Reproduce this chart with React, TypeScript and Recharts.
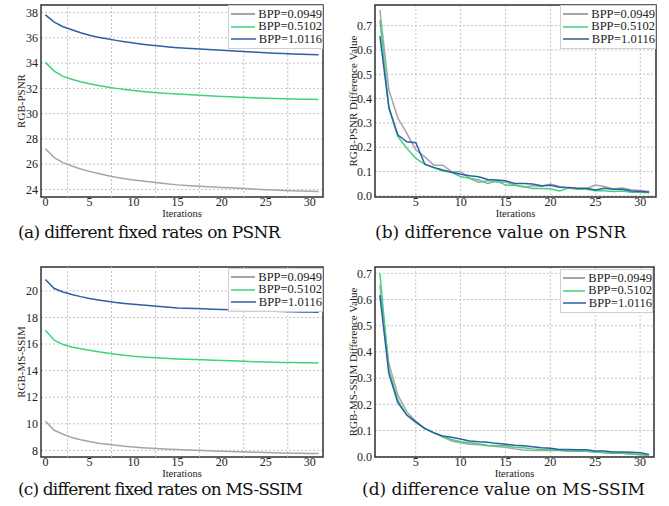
import { LineChart, Line, XAxis, YAxis, CartesianGrid, ReferenceLine, ReferenceArea } from "recharts";

const GRAY = "#a5a5a5";
const GREEN = "#40d27c";
const BLUE = "#2d5ea6";
const colors = [GRAY, GREEN, BLUE];
const seriesNames = ["BPP=0.0949", "BPP=0.5102", "BPP=1.0116"];

// x values
const itersFull = [0, 1, 2, 3, 4, 5, 6, 7, 8, 9, 10, 11, 12, 13, 14, 15, 16, 17, 18, 19, 20, 21, 22, 23, 24, 25, 26, 27, 28, 29, 30, 31];
const itersDiff = [1, 2, 3, 4, 5, 6, 7, 8, 9, 10, 11, 12, 13, 14, 15, 16, 17, 18, 19, 20, 21, 22, 23, 24, 25, 26, 27, 28, 29, 30, 31];

// (a) RGB-PSNR
const psnrLow = [27.22, 26.52, 26.12, 25.86, 25.62, 25.43, 25.26, 25.1, 24.96, 24.85, 24.75, 24.66, 24.58, 24.5, 24.42, 24.36, 24.32, 24.28, 24.24, 24.2, 24.16, 24.13, 24.09, 24.05, 24.01, 23.98, 23.95, 23.92, 23.89, 23.87, 23.85, 23.83];
const psnrMid = [34.06, 33.37, 32.95, 32.72, 32.53, 32.36, 32.22, 32.1, 32.0, 31.91, 31.83, 31.76, 31.7, 31.64, 31.59, 31.55, 31.51, 31.47, 31.43, 31.4, 31.36, 31.33, 31.3, 31.27, 31.24, 31.22, 31.2, 31.18, 31.16, 31.14, 31.13, 31.12];
const psnrHigh = [37.82, 37.25, 36.88, 36.64, 36.4, 36.2, 36.05, 35.92, 35.8, 35.69, 35.59, 35.5, 35.42, 35.35, 35.28, 35.22, 35.17, 35.13, 35.09, 35.05, 35.02, 34.98, 34.94, 34.9, 34.86, 34.82, 34.79, 34.76, 34.73, 34.71, 34.69, 34.67];

// (b) RGB-PSNR difference
const psnrDiffLow = [0.764, 0.435, 0.319, 0.257, 0.188, 0.16, 0.126, 0.126, 0.099, 0.099, 0.072, 0.055, 0.063, 0.057, 0.057, 0.044, 0.035, 0.041, 0.038, 0.048, 0.038, 0.032, 0.03, 0.029, 0.044, 0.038, 0.028, 0.032, 0.025, 0.022, 0.018];
const psnrDiffMid = [0.723, 0.366, 0.243, 0.195, 0.154, 0.129, 0.115, 0.102, 0.097, 0.078, 0.072, 0.065, 0.051, 0.062, 0.044, 0.043, 0.038, 0.03, 0.03, 0.029, 0.02, 0.032, 0.027, 0.027, 0.021, 0.021, 0.018, 0.02, 0.015, 0.015, 0.012];
const psnrDiffHigh = [0.657, 0.36, 0.25, 0.222, 0.218, 0.13, 0.117, 0.106, 0.097, 0.089, 0.082, 0.078, 0.067, 0.065, 0.062, 0.051, 0.051, 0.048, 0.041, 0.043, 0.035, 0.034, 0.031, 0.031, 0.024, 0.031, 0.027, 0.027, 0.02, 0.018, 0.016];

// (c) RGB-MS-SSIM
const ssimLow = [10.19, 9.51, 9.21, 8.96, 8.8, 8.66, 8.54, 8.46, 8.39, 8.31, 8.25, 8.2, 8.16, 8.12, 8.09, 8.06, 8.03, 8.01, 7.98, 7.95, 7.93, 7.91, 7.89, 7.87, 7.85, 7.83, 7.82, 7.8, 7.79, 7.78, 7.77, 7.76];
const ssimMid = [17.04, 16.29, 15.96, 15.78, 15.64, 15.53, 15.42, 15.32, 15.24, 15.15, 15.08, 15.03, 14.99, 14.95, 14.91, 14.88, 14.86, 14.83, 14.81, 14.78, 14.76, 14.74, 14.72, 14.69, 14.67, 14.65, 14.64, 14.62, 14.61, 14.6, 14.59, 14.58];
const ssimHigh = [20.86, 20.18, 19.92, 19.73, 19.57, 19.43, 19.32, 19.22, 19.13, 19.06, 19.0, 18.94, 18.88, 18.83, 18.77, 18.72, 18.7, 18.67, 18.65, 18.62, 18.6, 18.58, 18.55, 18.53, 18.51, 18.49, 18.47, 18.45, 18.44, 18.42, 18.41, 18.4];

// (d) RGB-MS-SSIM difference
const ssimDiffLow = [0.655, 0.357, 0.236, 0.172, 0.134, 0.107, 0.09, 0.076, 0.06, 0.053, 0.048, 0.046, 0.042, 0.039, 0.036, 0.03, 0.026, 0.024, 0.024, 0.025, 0.024, 0.022, 0.022, 0.021, 0.018, 0.015, 0.013, 0.013, 0.01, 0.008, 0.006];
const ssimDiffMid = [0.7, 0.331, 0.217, 0.159, 0.13, 0.107, 0.092, 0.076, 0.066, 0.057, 0.053, 0.049, 0.044, 0.043, 0.042, 0.036, 0.034, 0.03, 0.028, 0.027, 0.025, 0.022, 0.021, 0.021, 0.018, 0.016, 0.013, 0.013, 0.01, 0.009, 0.006];
const ssimDiffHigh = [0.617, 0.318, 0.206, 0.159, 0.134, 0.108, 0.092, 0.079, 0.074, 0.068, 0.06, 0.057, 0.055, 0.051, 0.048, 0.044, 0.042, 0.038, 0.034, 0.032, 0.028, 0.028, 0.027, 0.027, 0.022, 0.022, 0.018, 0.018, 0.017, 0.015, 0.009];

// ticks
const xTicksFull = [0, 5, 10, 15, 20, 25, 30];
const xTicksDiff = [5, 10, 15, 20, 25, 30];
const xGridHalf = [2.5, 7.5, 12.5, 17.5, 22.5, 27.5];
const yTicksPsnr = [24, 26, 28, 30, 32, 34, 36, 38];
const yTicksSsim = [8, 10, 12, 14, 16, 18, 20];
const yTicksDiff = [0, 0.1, 0.2, 0.3, 0.4, 0.5, 0.6, 0.7];

const FONT = "Liberation Serif, Times New Roman, serif";
const CAPTION_FONT = "DejaVu Serif, serif";

function buildRows(xs: number[], a: number[], b: number[], c: number[]) {
  return xs.map((x, i) => ({ x, s0: a[i], s1: b[i], s2: c[i] }));
}

type PanelProps = {
  left: number;
  top: number;
  width: number;
  height: number;
  margin: { top: number; right: number; left: number; bottom: number };
  yAxisWidth: number;
  data: { x: number; s0: number; s1: number; s2: number }[];
  xDomain: [number, number];
  yDomain: [number, number];
  xTicks: number[];
  yTicks: number[];
  halfGrid?: number[];
  yLabel: string;
  yLabelOffset: number;
  yFormat?: (v: number) => string;
  legendLeft: number;
  legendTop: number;
  legendWidth: number;
};

function Panel(p: PanelProps) {
  const tickStyle = { fontSize: 12, fill: "#222", fontFamily: FONT };
  return (
    <div style={{ position: "absolute", left: p.left, top: p.top, width: p.width, height: p.height }}>
      <LineChart width={p.width} height={p.height} data={p.data} margin={p.margin}>
        <CartesianGrid
          vertical={!p.halfGrid}
          stroke="#c4c4c4"
          strokeDasharray="2 2"
        />
        {p.halfGrid &&
          p.halfGrid.map((g) => (
            <ReferenceLine key={g} x={g} stroke="#c4c4c4" strokeDasharray="2 2" />
          ))}
        <XAxis
          dataKey="x"
          type="number"
          domain={p.xDomain}
          ticks={p.xTicks}
          allowDataOverflow
          axisLine={false}
          tickLine={false}
          tickSize={0}
          tickMargin={0}
          height={23}
          tick={tickStyle}
          label={{ value: "Iterations", position: "insideBottom", offset: 3, style: { fontSize: 10.5, fill: "#222", fontFamily: FONT } }}
        />
        <YAxis
          type="number"
          domain={p.yDomain}
          ticks={p.yTicks}
          allowDataOverflow
          width={p.yAxisWidth}
          axisLine={false}
          tickLine={false}
          tickSize={2}
          tickMargin={1}
          tick={tickStyle}
          tickFormatter={p.yFormat}
          label={{
            value: p.yLabel,
            angle: -90,
            position: "insideLeft",
            offset: p.yLabelOffset,
            style: { textAnchor: "middle", fontSize: 11, fill: "#222", fontFamily: FONT },
          }}
        />
        {["s0", "s1", "s2"].map((k, i) => (
          <Line
            key={k}
            type="linear"
            dataKey={k}
            stroke={colors[i]}
            strokeWidth={1.5}
            dot={false}
            isAnimationActive={false}
          />
        ))}
        <ReferenceArea
          x1={p.xDomain[0]}
          x2={p.xDomain[1]}
          y1={p.yDomain[0]}
          y2={p.yDomain[1]}
          fill="none"
          stroke="#333"
          strokeWidth={1.5}
        />
      </LineChart>
      <div
        style={{
          position: "absolute",
          left: p.legendLeft,
          top: p.legendTop,
          width: p.legendWidth,
          background: "rgba(255,255,255,0.9)",
          border: "1px solid #cfcfcf",
          padding: "2px 0 2px 2px",
          fontFamily: FONT,
          fontSize: 12.5,
          color: "#222",
          boxSizing: "border-box",
        }}
      >
        {seriesNames.map((name, i) => (
          <div key={name} style={{ display: "flex", alignItems: "center", height: 12.5, whiteSpace: "nowrap" }}>
            <svg width={30} height={6} style={{ marginRight: 3 }}>
              <line x1={0} y1={3} x2={27} y2={3} stroke={colors[i]} strokeWidth={i === 0 ? 2 : 1.5} />
            </svg>
            <span>{name}</span>
          </div>
        ))}
      </div>
    </div>
  );
}

const captionStyle = {
  position: "absolute" as const,
  fontFamily: CAPTION_FONT,
  fontSize: 17,
  color: "#111",
  lineHeight: "22px",
  whiteSpace: "nowrap" as const,
};

export default function App() {
  const fmt = (v: number) => v.toFixed(1);
  return (
    <div style={{ position: "absolute", left: 0, top: 0, width: 669, height: 506, background: "#fff" }}>
      <Panel
        left={0}
        top={0}
        width={335}
        height={220}
        margin={{ top: 5, right: 12, left: 0, bottom: 0 }}
        yAxisWidth={41}
        data={buildRows(itersFull, psnrLow, psnrMid, psnrHigh)}
        xDomain={[-0.5, 31.5]}
        yDomain={[23.4, 38.6]}
        xTicks={xTicksFull}
        yTicks={yTicksPsnr}
        halfGrid={xGridHalf}
        yLabel="RGB-PSNR"
        yLabelOffset={21}
        legendLeft={228}
        legendTop={5}
        legendWidth={95}
      />
      <Panel
        left={335}
        top={0}
        width={334}
        height={220}
        margin={{ top: 5, right: 13, left: 0, bottom: 0 }}
        yAxisWidth={40}
        data={buildRows(itersDiff, psnrDiffLow, psnrDiffMid, psnrDiffHigh)}
        xDomain={[0.45, 31.75]}
        yDomain={[-0.005, 0.785]}
        xTicks={xTicksDiff}
        yTicks={yTicksDiff}
        yLabel="RGB-PSNR Difference Value"
        yLabelOffset={18}
        yFormat={fmt}
        legendLeft={225}
        legendTop={5}
        legendWidth={96}
      />
      <Panel
        left={0}
        top={260}
        width={335}
        height={220}
        margin={{ top: 7, right: 12, left: 0, bottom: 0 }}
        yAxisWidth={41}
        data={buildRows(itersFull, ssimLow, ssimMid, ssimHigh)}
        xDomain={[-0.5, 31.5]}
        yDomain={[7.5, 21.8]}
        xTicks={xTicksFull}
        yTicks={yTicksSsim}
        halfGrid={xGridHalf}
        yLabel="RGB-MS-SSIM"
        yLabelOffset={21}
        legendLeft={228}
        legendTop={8}
        legendWidth={95}
      />
      <Panel
        left={335}
        top={260}
        width={334}
        height={220}
        margin={{ top: 7, right: 15, left: 0, bottom: 0 }}
        yAxisWidth={40}
        data={buildRows(itersDiff, ssimDiffLow, ssimDiffMid, ssimDiffHigh)}
        xDomain={[0.46, 31.55]}
        yDomain={[-0.001, 0.724]}
        xTicks={xTicksDiff}
        yTicks={yTicksDiff}
        yLabel="RGB-MS-SSIM Difference Value"
        yLabelOffset={18}
        yFormat={fmt}
        legendLeft={225}
        legendTop={9}
        legendWidth={93}
      />
      <div style={{ ...captionStyle, left: 18, top: 221, letterSpacing: -0.65 }}>(a) different fixed rates on PSNR</div>
      <div style={{ ...captionStyle, left: 375, top: 221 }}>(b) difference value on PSNR</div>
      <div style={{ ...captionStyle, left: 18, top: 478, letterSpacing: -0.85 }}>(c) different fixed rates on MS-SSIM</div>
      <div style={{ ...captionStyle, left: 362, top: 478 }}>(d) difference value on MS-SSIM</div>
    </div>
  );
}
